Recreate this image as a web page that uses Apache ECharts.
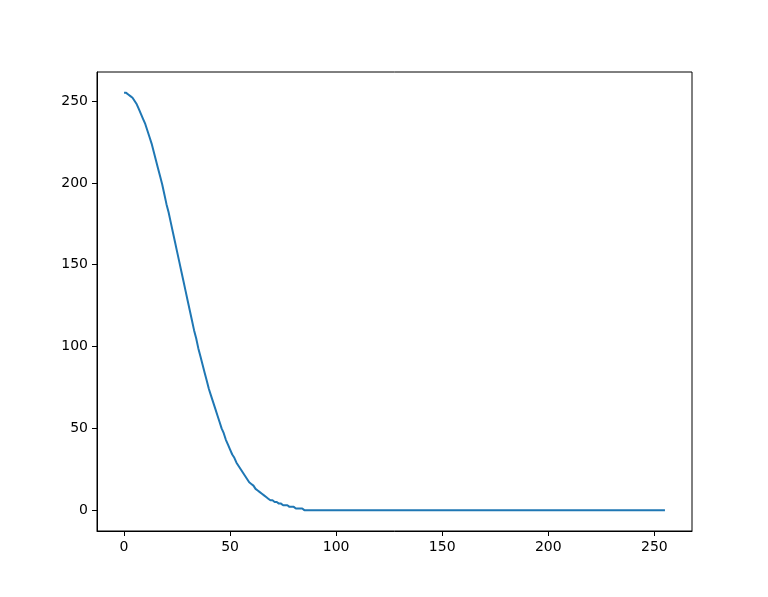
<!DOCTYPE html>
<html>
<head>
<meta charset="utf-8">
<script src="https://cdn.jsdelivr.net/npm/echarts@6/dist/echarts.min.js"></script>
<style>
  html, body { margin: 0; padding: 0; background: #fff; }
  #chart { width: 768px; height: 597px; }
</style>
</head>
<body>
<div id="chart"></div>
<script>
// curve values, one per x = 0..255
var yValues = [
  255, 255, 254, 253, 252, 250, 248, 245, 242, 239,
  236, 232, 228, 224, 219, 214, 209, 204, 199, 193,
  187, 182, 176, 170, 164, 158, 152, 146, 140, 134,
  128, 122, 116, 110, 105, 99, 94, 89, 84, 79,
  74, 70, 66, 62, 58, 54, 50, 47, 43, 40,
  37, 34, 32, 29, 27, 25, 23, 21, 19, 17,
  16, 15, 13, 12, 11, 10, 9, 8, 7, 6,
  6, 5, 5, 4, 4, 3, 3, 3, 2, 2,
  2, 1, 1, 1, 1,
  0, 0, 0, 0, 0, 0, 0, 0, 0, 0,
  0, 0, 0, 0, 0, 0, 0, 0, 0, 0,
  0, 0, 0, 0, 0, 0, 0, 0, 0, 0,
  0, 0, 0, 0, 0, 0, 0, 0, 0, 0,
  0, 0, 0, 0, 0, 0, 0, 0, 0, 0,
  0, 0, 0, 0, 0, 0, 0, 0, 0, 0,
  0, 0, 0, 0, 0, 0, 0, 0, 0, 0,
  0, 0, 0, 0, 0, 0, 0, 0, 0, 0,
  0, 0, 0, 0, 0, 0, 0, 0, 0, 0,
  0, 0, 0, 0, 0, 0, 0, 0, 0, 0,
  0, 0, 0, 0, 0, 0, 0, 0, 0, 0,
  0, 0, 0, 0, 0, 0, 0, 0, 0, 0,
  0, 0, 0, 0, 0, 0, 0, 0, 0, 0,
  0, 0, 0, 0, 0, 0, 0, 0, 0, 0,
  0, 0, 0, 0, 0, 0, 0, 0, 0, 0,
  0, 0, 0, 0, 0, 0, 0, 0, 0, 0,
  0, 0, 0, 0, 0, 0, 0, 0, 0, 0,
  0
]
var xTicks = [0, 50, 100, 150, 200, 250]
var yTicks = [0, 50, 100, 150, 200, 250]

var chart = echarts.init(document.getElementById('chart'))

var axisCommon = {
  type: 'value',
  axisLine: { show: true, onZero: false, lineStyle: { color: '#000', width: 1 } },
  axisTick: { show: true, length: 5, lineStyle: { color: '#000', width: 1 } },
  axisLabel: {
    color: '#000',
    fontSize: 14,
    fontFamily: 'DejaVu Sans',
    margin: 9
  },
  splitLine: { show: false }
}

chart.setOption({
  animation: false,
  backgroundColor: '#fff',
  grid: {
    left: 97,
    top: 72,
    width: 595,
    height: 459,
    show: true,
    borderColor: '#000',
    borderWidth: 1,
    containLabel: false
  },
  xAxis: Object.assign({}, axisCommon, {
    min: -12.75,
    max: 267.75,
    axisTick: Object.assign({}, axisCommon.axisTick, { customValues: xTicks }),
    axisLabel: Object.assign({}, axisCommon.axisLabel, { customValues: xTicks })
  }),
  yAxis: Object.assign({}, axisCommon, {
    min: -12.75,
    max: 267.75,
    axisTick: Object.assign({}, axisCommon.axisTick, { customValues: yTicks }),
    axisLabel: Object.assign({}, axisCommon.axisLabel, { customValues: yTicks })
  }),
  series: [{
    type: 'line',
    data: yValues.map(function (v, i) { return [i, v] }),
    showSymbol: false,
    lineStyle: { color: '#1f77b4', width: 2 },
    itemStyle: { color: '#1f77b4' }
  }]
})
</script>
</body>
</html>
